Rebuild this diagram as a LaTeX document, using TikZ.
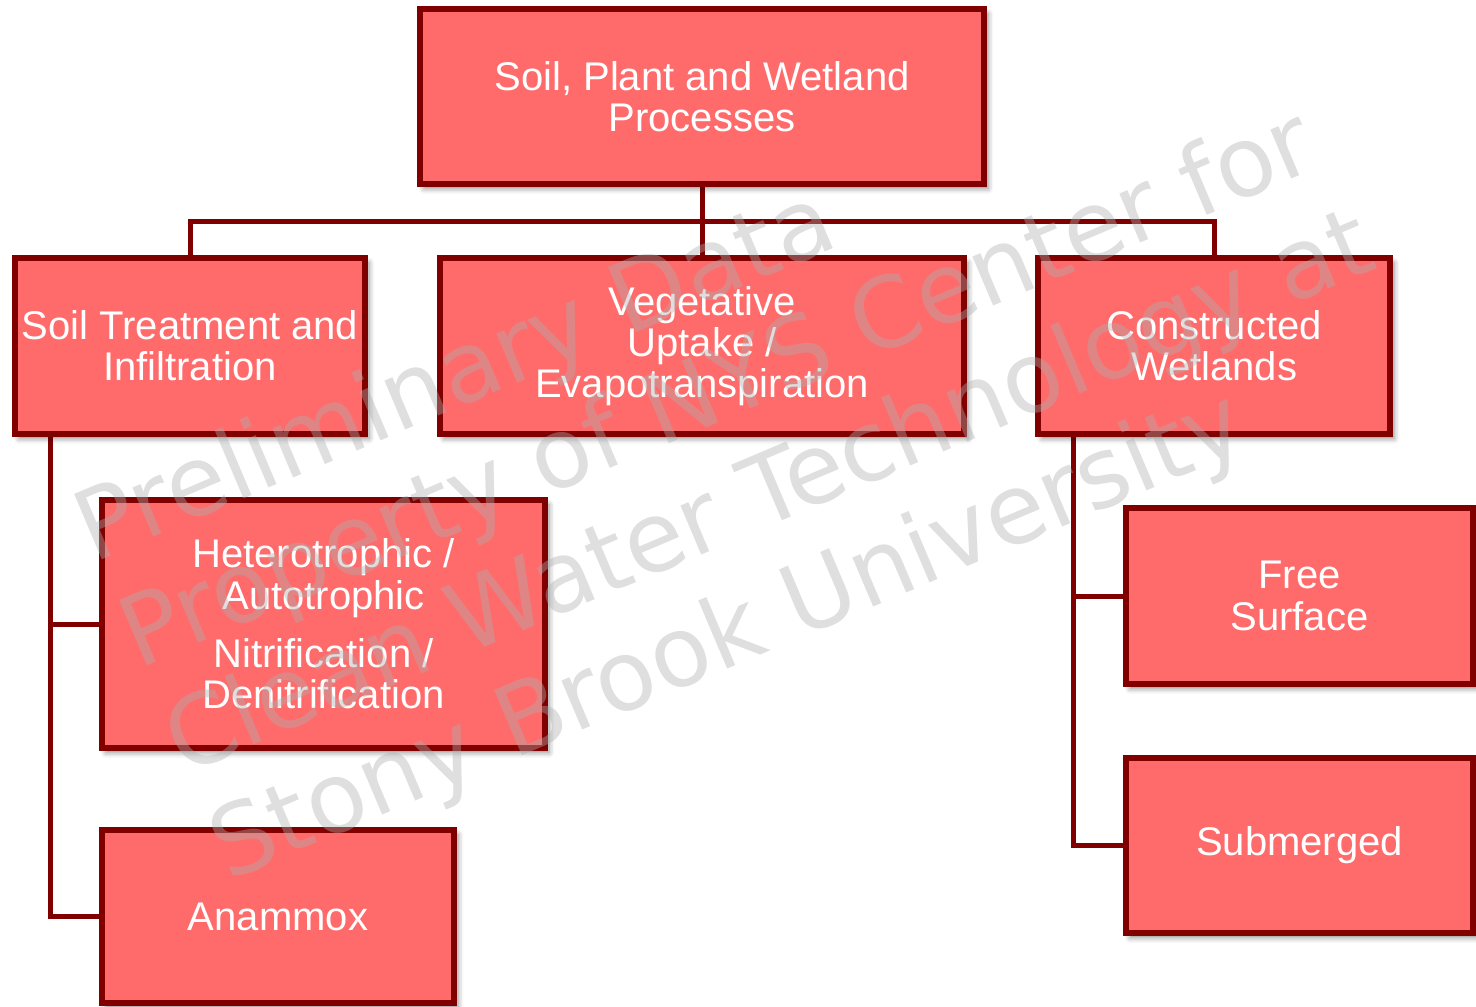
\documentclass[tikz,border=0pt]{standalone}
\usepackage{fontspec}
\setmainfont{Liberation Sans}
\newfontfamily\wmfont{DejaVu Sans}
\usetikzlibrary{shadows.blur}
\definecolor{boxfill}{RGB}{255,107,107}
\definecolor{boxedge}{RGB}{128,0,0}
\definecolor{wmgray}{RGB}{174,174,174}
\pgfdeclarelayer{wires}
\pgfsetlayers{wires,main}

\begin{document}
\begin{tikzpicture}[x=0.75pt,y=-0.75pt,
  procbox/.style={draw=boxedge, fill=boxfill, line width=4.5pt, inner sep=0pt,
    outer sep=0pt, text=white, align=center, font=\fontsize{30}{31}\selectfont,
    blur shadow={shadow xshift=3pt, shadow yshift=-3.5pt, shadow blur radius=4pt, shadow opacity=45}},
  wire/.style={draw=boxedge, line width=3.75pt},
  wmark/.style={anchor=base west, rotate=23, text=wmgray, text opacity=0.4,
    font=\wmfont\fontsize{73}{84}\selectfont, inner sep=0pt, outer sep=0pt}]
\useasboundingbox (0,0) rectangle (1476,1006);

% process boxes
\node[procbox, minimum width=423pt, minimum height=131.25pt] (top) at (702,96.5)
  {Soil, Plant and Wetland\\Processes};
\node[procbox, minimum width=262.5pt, minimum height=132pt] (soil) at (190,346)
  {Soil Treatment and\\Infiltration};
\node[procbox, minimum width=393pt, minimum height=132pt] (veg) at (702,346)
  {Vegetative\\Uptake /\\Evapotranspiration};
\node[procbox, minimum width=264pt, minimum height=132pt] (cw) at (1214,346)
  {Constructed\\Wetlands};
\node[procbox, minimum width=332.25pt, minimum height=186pt] (het) at (323.5,624)
  {Heterotrophic /\\Autotrophic\\[12.5pt]Nitrification /\\Denitrification};
\node[procbox, minimum width=264pt, minimum height=129.75pt] (ana) at (278,916.5)
  {Anammox};
\node[procbox, minimum width=260.25pt, minimum height=132pt] (free) at (1299.5,596)
  {Free\\Surface};
\node[procbox, minimum width=260.25pt, minimum height=131.25pt] (sub) at (1299.5,845.5)
  {Submerged};

% connectors, kept underneath the boxes
\coordinate (bus) at (702,221);
\coordinate (ltrunk) at (50,0);
\coordinate (rtrunk) at (1073,0);
\begin{pgfonlayer}{wires}
  \draw[wire] (top.south) -- (veg.north);
  \draw[wire] (soil.north) |- (bus) -| (cw.north);
  \draw[wire] (soil.south -| ltrunk) |- (ana.west);
  \draw[wire] (het.west -| ltrunk) -- (het.west);
  \draw[wire] (cw.south -| rtrunk) |- (sub.west);
  \draw[wire] (free.west -| rtrunk) -- (free.west);
\end{pgfonlayer}

% watermark
\node[wmark] (wm1) at (93,563) {Preliminary Data};
\node[wmark] (wm2) at (138,669) {Property of NYS Center for};
\node[wmark] (wm3) at (183,775) {Clean Water Technology at};
\node[wmark] (wm4) at (228,881) {Stony Brook University};
\end{tikzpicture}
\end{document}
